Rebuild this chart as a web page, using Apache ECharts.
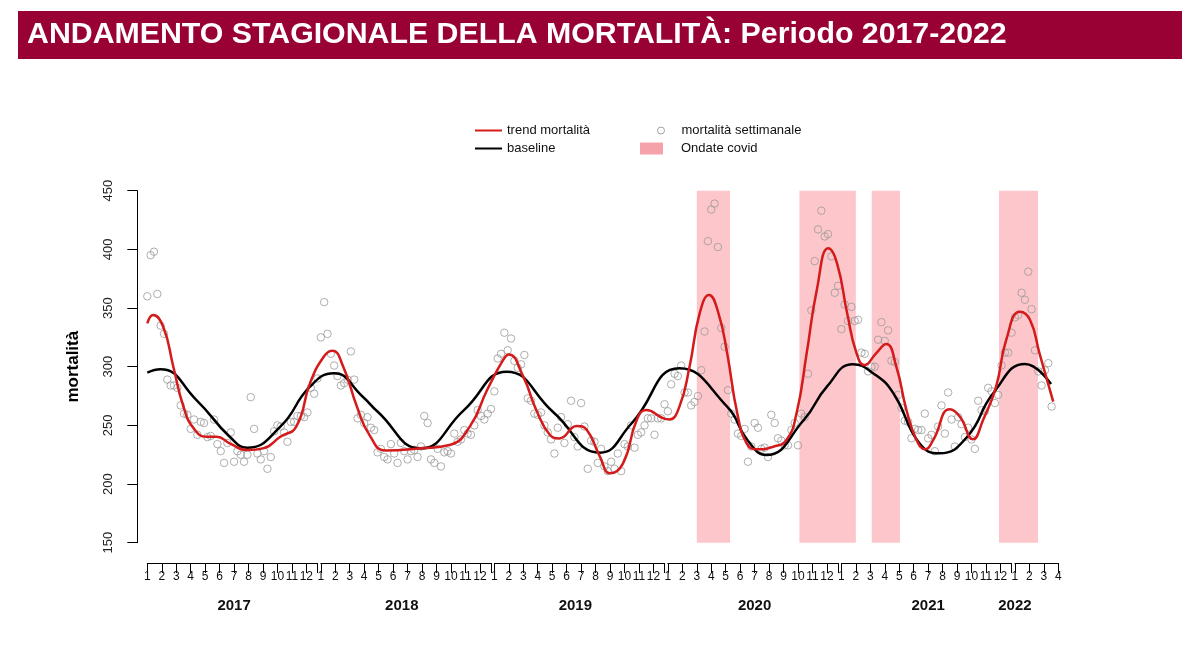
<!DOCTYPE html>
<html>
<head>
<meta charset="utf-8">
<title>Andamento stagionale della mortalità</title>
<script src="https://cdn.jsdelivr.net/npm/echarts@6.0.0/dist/echarts.min.js"></script>
<style>
  html, body { margin: 0; padding: 0; background: #fff; }
  #chart { width: 1200px; height: 659px; }
</style>
</head>
<body>
<div id="chart"></div>
<script>
// x is counted in months from 1 January 2017 (0 = first week of 2017)
const years = ['2017', '2018', '2019', '2020', '2021', '2022'];
const monthsShown = [12, 12, 12, 12, 12, 4];
const monthLabels = ['1', '2', '3', '4', '5', '6', '7', '8', '9', '10', '11', '12'];
const yearLabelAt = [6, 17.6, 29.6, 42, 54, 60];

// weekly deaths (mortalità settimanale), one value per week from week 1 of 2017
const weekly = [
  360, 395, 398, 362, 335, 328, 289, 284, 284, 282,
  267, 260, 259, 247, 255, 242, 253, 252, 240, 241,
  255, 234, 228, 218, 235, 244, 219, 228, 225, 219,
  225, 274, 247, 226, 221, 228, 213, 223, 245, 250,
  249, 244, 236, 253, 253, 258, 258, 257, 261, 282,
  277, 290, 325, 355, 328, 311, 301, 292, 284, 286,
  289, 313, 289, 256, 259, 252, 257, 248, 246, 227,
  230, 223, 221, 234, 226, 218, 235, 228, 221, 228,
  229, 223, 232, 258, 252, 221, 218, 230, 215, 227,
  228, 226, 243, 236, 238, 246, 243, 242, 250, 263,
  258, 255, 260, 264, 279, 307, 311, 329, 314, 324,
  305, 299, 302, 310, 273, 271, 260, 259, 261, 250,
  244, 238, 226, 248, 257, 235, 251, 271, 240, 232,
  269, 249, 213, 237, 236, 218, 230, 215, 211, 219,
  213, 226, 211, 234, 232, 250, 231, 242, 244, 250,
  256, 256, 242, 256, 256, 268, 262, 285, 294, 292,
  301, 278, 278, 267, 270, 275, 297, 330, 407, 434,
  439, 402, 333, 317, 280, 260, 255, 243, 241, 247,
  219, 232, 252, 248, 230, 231, 223, 259, 252, 239,
  237, 233, 233, 246, 252, 233, 260, 257, 294, 348,
  390, 417, 433, 411, 413, 394, 363, 369, 332, 353,
  339, 351, 339, 340, 312, 311, 296, 300, 300, 323,
  338, 322, 331, 305, 304, 276, 265, 254, 253, 239,
  247, 246, 246, 260, 239, 242, 228, 249, 267, 243,
  278, 255, 232, 257, 251, 240, 248, 238, 230, 271,
  263, 262, 282, 279, 269, 276, 301, 312, 312, 329,
  342, 344, 363, 357, 381, 349, 314, 296, 284, 297,
  303, 266
];

// trend mortalità
const trendMonth = [0, 0.4, 1.1, 1.8, 2.5, 3.2, 4.1, 4.8, 5.7, 6.9, 8.0, 9.2, 10.3, 11.25, 12.2, 12.8, 13.55, 14.5, 15.4, 16.5,
  18.9, 20.9, 22.3, 23.5, 24.6, 25.0, 26.0, 26.9, 27.85, 28.5, 29.7, 30.4, 31.3, 32.0, 32.9, 33.85, 34.5, 35.7, 36.1, 36.8,
  37.5, 38.2, 38.85, 39.5, 40.1, 40.8, 41.45, 42.1, 43.3, 44.2, 44.9, 45.6, 46.3, 47.1, 47.7, 48.4, 49.05, 49.6, 50.4, 51.1,
  51.8, 52.5, 53.2, 53.8, 54.35, 55.5, 56.2, 57.1, 57.8, 58.7, 59.4, 60.35, 61.05, 61.7, 62.65];
const trendValue = [337, 344, 334, 300, 266, 247.5, 240.3, 240.3, 234.7, 229, 230.4, 240.3, 248.9, 285.8, 308.5, 313.6, 300, 265.9, 241, 228.5,
  230.4, 233.3, 248.9, 280.1, 305.6, 310.5, 291.5, 263.1, 241.8, 238.9, 249.5, 246, 223.3, 209.1, 217.6, 254.6, 263.1, 256, 255.1, 266,
  300, 345.5, 361.1, 345.5, 311.4, 260.3, 234.7, 229.6, 231.8, 237.5, 260.3, 311.4, 365.4, 400.9, 388.1, 345.5, 311.4, 301.4, 311.4, 319.3,
  300, 263.1, 237.5, 229.6, 237.5, 263.7, 257.4, 238.1, 254.6, 283, 322.8, 346.9, 339.8, 311.4, 270.2];

// baseline
const baseMonth = [0, 0.9, 3.4, 5.7, 6.9, 9.2, 11.25, 12.9, 14.9, 15.9, 18.9, 21.9, 24.85, 28.1, 31.3, 33.5,
  36.8, 40.1, 41.5, 42.8, 45.4, 47, 48.8, 50.2, 51.6, 53.4, 54.8, 56.7, 58.5, 60.7, 62.5];
const baseValue = [295, 297.8, 271.6, 240.3, 231, 248.9, 283, 294.4, 274.4, 262, 230.4, 263, 295.8, 261, 226.7, 251.8,
  298.6, 265.9, 237.5, 224.7, 254.6, 283, 302, 294.4, 277.3, 234.7, 226.2, 240.3, 277.3, 302.3, 285.2];

// ondate covid (start, end) in months
const covidWaves = [[38.0, 40.3], [45.1, 49.0], [50.1, 52.05], [58.9, 61.6]];

const FONT = '"Liberation Sans", Arial, sans-serif';
const X0 = 147.3;
const PXM = 14.46;          // pixels per month
const WEEK = 12 / 52;       // months per week

let myChart = echarts.init(document.getElementById('chart'));

let grids = [{left: X0, top: 190.7, width: 64 * PXM, height: 352, outerBoundsMode: 'none'}];
let xAxes = [{gridIndex: 0, type: 'value', min: 0, max: 64, show: false}];
let yAxes = [{
    gridIndex: 0, type: 'value', min: 150, max: 450, interval: 50, offset: 10,
    axisLine: {show: true, onZero: false, lineStyle: {color: '#000', width: 1}},
    axisTick: {show: true, length: 10, lineStyle: {color: '#000'}},
    axisLabel: {rotate: 90, fontSize: 13, color: '#222', margin: 22, fontFamily: FONT},
    splitLine: {show: false},
    name: 'mortalità', nameLocation: 'middle', nameGap: 55, nameRotate: 90,
    nameTextStyle: {fontSize: 17, fontWeight: 'bold', color: '#000', fontFamily: FONT}
}];

// one axis piece per year, like the original
years.forEach(function (y, i) {
    let n = monthsShown[i];
    let end = n < 12 ? n - 1 : 51 * WEEK;
    let idx = [];
    for (let k = 0; k < n; k++) idx.push(k);
    grids.push({left: X0 + 12 * i * PXM, top: 553, width: end * PXM, height: 10, outerBoundsMode: 'none'});
    xAxes.push({
        gridIndex: i + 1, type: 'value', min: 0, max: end, position: 'bottom',
        axisLine: {show: true, onZero: false, lineStyle: {color: '#000', width: 1}},
        axisTick: {show: true, length: 10, customValues: idx.concat([end]), lineStyle: {color: '#000'}},
        axisLabel: {
            customValues: idx, margin: 8, fontSize: 12, color: '#111', fontFamily: FONT,
            formatter: function (v) { return monthLabels[Math.round(v)]; }
        },
        splitLine: {show: false}
    });
    yAxes.push({gridIndex: i + 1, show: false, min: 0, max: 1});
});

// year names under the months
grids.push({left: X0, top: 553, width: 63 * PXM, height: 10, outerBoundsMode: 'none'});
xAxes.push({
    gridIndex: years.length + 1, type: 'value', min: 0, max: 63,
    axisLine: {show: false}, axisTick: {show: false}, splitLine: {show: false},
    axisLabel: {
        customValues: yearLabelAt, margin: 35, fontSize: 15, fontWeight: 'bold', color: '#111', fontFamily: FONT,
        formatter: function (v) { return years[yearLabelAt.indexOf(v)]; }
    }
});
yAxes.push({gridIndex: years.length + 1, show: false, min: 0, max: 1});

let option = {
    animation: false,
    backgroundColor: '#fff',
    grid: grids,
    xAxis: xAxes,
    yAxis: yAxes,
    graphic: [{
        type: 'rect', left: 18, top: 11, z: 0,
        shape: {width: 1164, height: 48},
        style: {fill: '#990033'}
    }, {
        type: 'text', x: 27, y: 35, z: 1,
        style: {
            text: 'ANDAMENTO STAGIONALE DELLA MORTALITÀ: Periodo 2017-2022',
            fill: '#fff', font: 'bold 30.3px ' + FONT, textVerticalAlign: 'middle'
        }
    }],
    legend: [{
        data: ['trend mortalità', 'baseline'],
        orient: 'vertical', left: 470, top: 118, itemGap: 3,
        itemWidth: 27, itemHeight: 2, icon: 'rect', selectedMode: false,
        textStyle: {fontSize: 13, lineHeight: 15, color: '#111', fontFamily: FONT}
    }, {
        data: [{name: 'mortalità settimanale', icon: 'circle',
            itemStyle: {color: 'rgba(0,0,0,0)', borderColor: '#8c8c8c', borderWidth: 1}}],
        left: 652, top: 118, itemWidth: 7, itemHeight: 7, selectedMode: false,
        textStyle: {fontSize: 13, lineHeight: 15, color: '#111', fontFamily: FONT, padding: [0, 0, 0, 12]}
    }, {
        data: [{name: 'Ondate covid', icon: 'rect'}],
        left: 635, top: 136, itemWidth: 23, itemHeight: 12, selectedMode: false,
        textStyle: {fontSize: 13, lineHeight: 15, color: '#111', fontFamily: FONT, padding: [0, 0, 0, 13]}
    }],
    series: [{
        name: 'Ondate covid',
        type: 'line', xAxisIndex: 0, yAxisIndex: 0, z: 1,
        data: [],
        itemStyle: {color: '#f6a2aa'},
        markArea: {
            silent: true,
            itemStyle: {color: '#fcc6cb'},
            data: covidWaves.map(function (w) { return [{xAxis: w[0]}, {xAxis: w[1]}]; })
        }
    }, {
        name: 'mortalità settimanale',
        type: 'scatter', xAxisIndex: 0, yAxisIndex: 0, z: 2,
        symbol: 'circle', symbolSize: 7.5,
        itemStyle: {color: 'rgba(0,0,0,0)', borderColor: '#9a9a9a', borderWidth: 1},
        data: weekly.map(function (v, i) { return [i * WEEK, v]; })
    }, {
        name: 'baseline',
        type: 'line', xAxisIndex: 0, yAxisIndex: 0, z: 3,
        smooth: 0.5, showSymbol: false, color: '#000',
        lineStyle: {color: '#000', width: 2.5},
        data: baseMonth.map(function (m, i) { return [m, baseValue[i]]; })
    }, {
        name: 'trend mortalità',
        type: 'line', xAxisIndex: 0, yAxisIndex: 0, z: 4,
        smooth: 0.5, showSymbol: false, color: '#d41a1a',
        lineStyle: {color: '#d41a1a', width: 2.5},
        data: trendMonth.map(function (m, i) { return [m, trendValue[i]]; })
    }]
};
myChart.setOption(option);
</script>
</body>
</html>
